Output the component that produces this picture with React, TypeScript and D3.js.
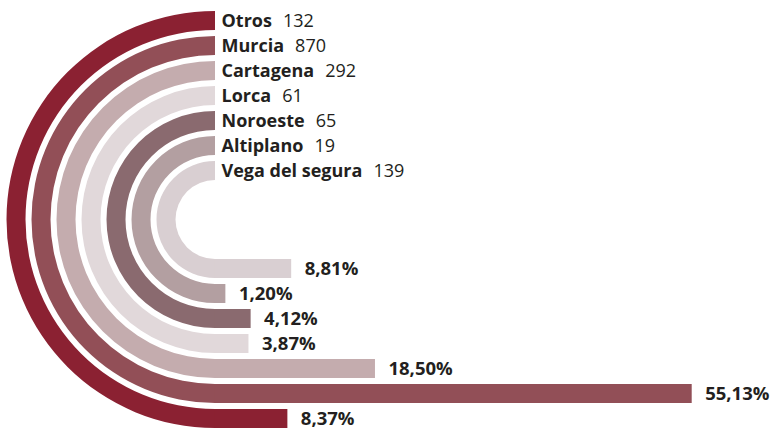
import React, { useEffect } from "react";
import * as d3 from "d3";

const categories = ["Otros", "Murcia", "Cartagena", "Lorca", "Noroeste", "Altiplano", "Vega del segura"];
const counts = [132, 870, 292, 61, 65, 19, 139];
const percents = [8.37, 55.13, 18.5, 3.87, 4.12, 1.2, 8.81];
const percentLabels = ["8,37%", "55,13%", "18,50%", "3,87%", "4,12%", "1,20%", "8,81%"];
const colors = ["#8B2132", "#924F57", "#C4ACAE", "#E1D8DA", "#8A6A6F", "#B39FA1", "#D9CFD2"];

const W = 774;
const H = 428;
const cx = 215;
const cy = 219.5;
const outerMax = 208.5;
const pitch = 25;
const band = 19;
const textColor = "#231F20";
const font = "'Open Sans', sans-serif";

export default function App() {
  useEffect(() => {
    document.body.style.margin = "0";
  }, []);

  const x = d3.scaleLinear().domain([0, 55.13]).range([0, 476.7]);
  const arc = d3.arc();

  return (
    <svg width={W} height={H} style={{ display: "block" }}>
      <g transform={`translate(${cx},${cy})`}>
        {categories.map((c, i) => {
          const ro = outerMax - i * pitch;
          const ri = ro - band;
          const path = arc({ innerRadius: ri, outerRadius: ro, startAngle: Math.PI, endAngle: 2 * Math.PI } as any) as string;
          const barW = x(percents[i]);
          return (
            <g key={c}>
              <path d={path} fill={colors[i]} />
              <rect x={-0.3} y={ri} width={barW + 0.3} height={band} fill={colors[i]} />
              <text
                x={barW + 13.5}
                y={ri + band / 2}
                dy="0.36em"
                fontFamily={font}
                fontWeight={700}
                fontSize={18.5}
                fill={textColor}
              >
                {percentLabels[i]}
              </text>
              <text x={6.5} y={-ro + band / 2} dy="0.36em" fontFamily={font} fontSize={18} fill={textColor}>
                <tspan fontWeight={700}>{c}</tspan>
                <tspan dx={11}>{counts[i]}</tspan>
              </text>
            </g>
          );
        })}
      </g>
    </svg>
  );
}
